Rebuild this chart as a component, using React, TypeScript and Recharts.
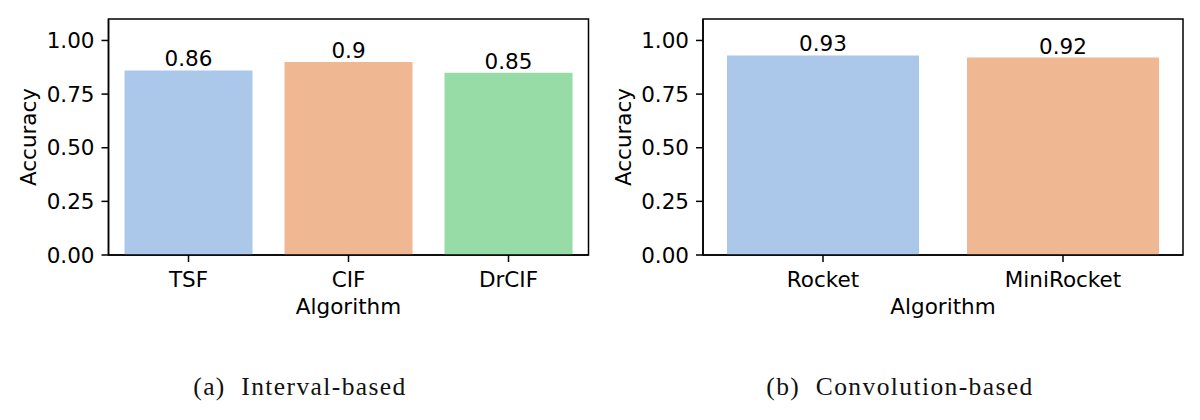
import React from 'react';
import { BarChart, Bar, Cell, LabelList, XAxis, YAxis, ReferenceArea } from 'recharts';

const intervalAlgorithms = ['TSF', 'CIF', 'DrCIF'];
const intervalAccuracy = [0.86, 0.9, 0.85];

const convolutionAlgorithms = ['Rocket', 'MiniRocket'];
const convolutionAccuracy = [0.93, 0.92];

const accuracyTicks = [0, 0.25, 0.5, 0.75, 1.0];
const accuracyMax = 1.1;

// seaborn pastel, desaturated the way barplot does it
const barColors = ['#abc8ea', '#efb792', '#97dba6'];

const FONT = 'DejaVu Sans, sans-serif';
const FONT_SIZE = 21.5;
const INK = '#000';

const toRows = (names: string[], values: number[]) =>
  names.map((name, i) => ({ name, accuracy: values[i] }));

const YLabel = ({ viewBox }: any) => {
  const cx = viewBox.x + viewBox.width - 80;
  const cy = viewBox.y + viewBox.height / 2;
  return (
    <text
      x={cx}
      y={cy}
      transform={`rotate(-90 ${cx} ${cy})`}
      textAnchor="middle"
      dominantBaseline="central"
      fontFamily={FONT}
      fontSize={FONT_SIZE}
      fill={INK}
    >
      Accuracy
    </text>
  );
};

const XLabel = ({ viewBox }: any) => (
  <text
    x={viewBox.x + viewBox.width / 2}
    y={viewBox.y + 59}
    textAnchor="middle"
    fontFamily={FONT}
    fontSize={FONT_SIZE}
    fill={INK}
  >
    Algorithm
  </text>
);

type PanelProps = {
  names: string[];
  values: number[];
  left: number;
  axisWidth: number;
  rightMargin: number;
  caption: string;
};

const Panel = ({ names, values, left, axisWidth, rightMargin, caption }: PanelProps) => {
  const rows = toRows(names, values);
  const tick = { fontFamily: FONT, fontSize: FONT_SIZE, fill: INK };
  return (
    <div style={{ position: 'absolute', left, top: 0, width: 600, height: 420 }}>
      <BarChart
        width={600}
        height={340}
        data={rows}
        margin={{ top: 19, right: rightMargin, bottom: 25, left: 0 }}
        barCategoryGap="10%"
      >
        <XAxis
          dataKey="name"
          height={60}
          tick={tick}
          tickSize={7}
          tickMargin={10}
          axisLine={{ stroke: INK, strokeWidth: 1.5 }}
          tickLine={{ stroke: INK, strokeWidth: 1.5 }}
          label={<XLabel />}
        />
        <YAxis
          width={axisWidth}
          domain={[0, accuracyMax]}
          ticks={accuracyTicks}
          tickFormatter={(v: number) => v.toFixed(2)}
          tick={tick}
          tickSize={7}
          tickMargin={7}
          axisLine={{ stroke: INK, strokeWidth: 1.5 }}
          tickLine={{ stroke: INK, strokeWidth: 1.5 }}
          label={<YLabel />}
        />
        <Bar dataKey="accuracy" isAnimationActive={false}>
          {rows.map((r, i) => (
            <Cell key={r.name} fill={barColors[i % barColors.length]} />
          ))}
          <LabelList
            dataKey="accuracy"
            position="top"
            offset={4}
            fontFamily={FONT}
            fontSize={FONT_SIZE}
            fill={INK}
          />
        </Bar>
        {/* frame round the plot area, like the matplotlib spines */}
        <ReferenceArea
          x1={names[0]}
          x2={names[names.length - 1]}
          y1={0}
          y2={accuracyMax}
          fill="none"
          stroke={INK}
          strokeWidth={1.5}
          ifOverflow="visible"
        />
      </BarChart>
      <div
        style={{
          position: 'absolute',
          left: 0,
          top: 374,
          width: 600,
          textAlign: 'center',
          fontFamily: 'Liberation Serif, serif',
          fontSize: 25.5,
          lineHeight: '25px',
          letterSpacing: 1.4,
          color: '#111',
          whiteSpace: 'pre',
        }}
      >
        {caption}
      </div>
    </div>
  );
};

export default function App() {
  return (
    <div style={{ position: 'absolute', left: 0, top: 0, width: 1200, height: 420, background: '#fff' }}>
      <Panel
        names={intervalAlgorithms}
        values={intervalAccuracy}
        left={0}
        axisWidth={108.5}
        rightMargin={11.5}
        caption="(a)  Interval-based"
      />
      <Panel
        names={convolutionAlgorithms}
        values={convolutionAccuracy}
        left={600}
        axisWidth={103}
        rightMargin={17}
        caption="(b)  Convolution-based"
      />
    </div>
  );
}
